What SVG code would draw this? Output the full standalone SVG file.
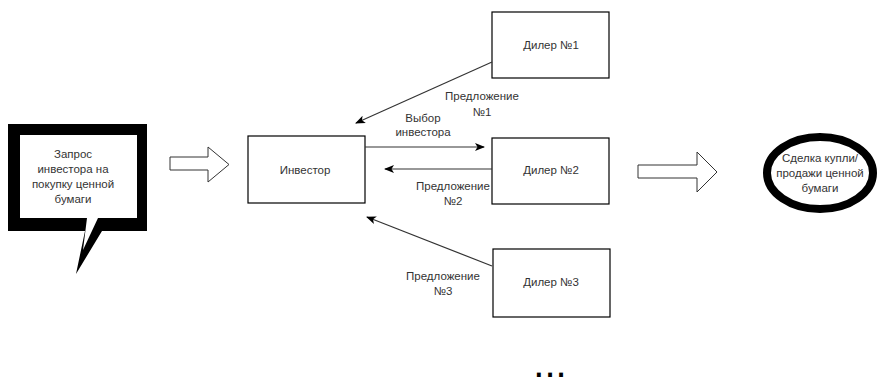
<svg xmlns="http://www.w3.org/2000/svg" width="883" height="379" viewBox="0 0 883 379">
<style>
text{font-family:"Liberation Sans",Arial,sans-serif;font-size:11.5px;fill:#333;text-anchor:middle;dominant-baseline:central}
.box{fill:#fff;stroke:#000;stroke-width:1.2}
.ln{stroke:#333;stroke-width:1.2;fill:none}
.blk{fill:#fff;stroke:#333;stroke-width:1}
</style>
<defs>
<marker id="ah" viewBox="0 0 10 10" refX="9" refY="5" markerWidth="10" markerHeight="10" markerUnits="userSpaceOnUse" orient="auto">
<path d="M0,1 L10,5 L0,9 L2.5,5 Z" fill="#000"/>
</marker>
</defs>
<rect width="883" height="379" fill="#fff"/>
<g id="request">
<path d="M8,124 H147 V231 H102 L76,274 L85,231 H8 Z" fill="#000"/>
<path d="M20,135 H137 V218 H98 L83,250 L87,218 H20 Z" fill="#fff"/>
<text x="73" y="154">Запрос</text>
<text x="73" y="169">инвестора на</text>
<text x="73" y="184">покупку ценной</text>
<text x="73" y="199">бумаги</text>
</g>
<g id="arrow-in">
<path class="blk" d="M170,157 H208 V147 L229,164.5 L208,182 V170 H170 Z"/>
</g>
<g id="investor">
<rect class="box" x="248" y="136" width="117" height="67"/>
<text x="305" y="170">Инвестор</text>
</g>
<g id="dealer1">
<rect class="box" x="492" y="12" width="117" height="66"/>
<text x="551" y="45">Дилер №1</text>
</g>
<g id="dealer2">
<rect class="box" x="492" y="138" width="117" height="66"/>
<text x="551" y="170">Дилер №2</text>
</g>
<g id="dealer3">
<rect class="box" x="493" y="249" width="117" height="68"/>
<text x="551" y="282">Дилер №3</text>
</g>
<g id="arrow-out">
<path class="blk" d="M638,165 H697 V152 L717,172 L697,192 V178 H638 Z"/>
</g>
<g id="deal">
<ellipse cx="820" cy="173" rx="53" ry="36" fill="#fff" stroke="#000" stroke-width="8"/>
<text x="820" y="158">Сделка купли/</text>
<text x="820" y="173">продажи ценной</text>
<text x="820" y="188">бумаги</text>
</g>
<g id="connectors">
<line class="ln" x1="492" y1="62" x2="356" y2="123" marker-end="url(#ah)"/>
<line class="ln" x1="365" y1="147" x2="484" y2="147" marker-end="url(#ah)"/>
<line class="ln" x1="492" y1="169" x2="385" y2="169" marker-end="url(#ah)"/>
<line class="ln" x1="492" y1="266" x2="367" y2="217" marker-end="url(#ah)"/>
<text x="482" y="96">Предложение</text>
<text x="482" y="112">№1</text>
<text x="423" y="118">Выбор</text>
<text x="423" y="132">инвестора</text>
<text x="453" y="186">Предложение</text>
<text x="453" y="201">№2</text>
<text x="443" y="276">Предложение</text>
<text x="443" y="291">№3</text>
</g>
<text x="550" y="377" style="font-size:40px;fill:#000;dominant-baseline:auto">...</text>
</svg>
